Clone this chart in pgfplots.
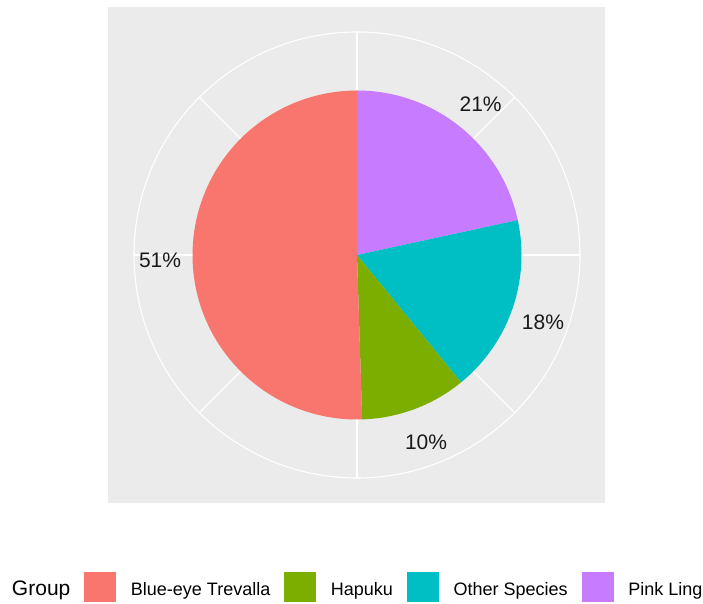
\documentclass[border=0pt]{standalone}
\usepackage{pgfplots}
\pgfplotsset{compat=1.18}
\usepackage{fontspec}
\setmainfont{Liberation Sans}
\definecolor{cBlueEye}{HTML}{F8766D}
\definecolor{cHapuku}{HTML}{7CAE00}
\definecolor{cOther}{HTML}{00BFC4}
\definecolor{cPinkLing}{HTML}{C77CFF}
\definecolor{cPanel}{HTML}{EBEBEB}
% #1 start share (%), #2 share (%), #3 colour, #4 label
\newcommand\pieslice[4]{%
  \fill[#3] (axis cs:357,349) -- ++({90-3.6*(#1)}:164.5pt)
     arc[start angle={90-3.6*(#1)}, end angle={90-3.6*(#1+#2)}, radius=164.5pt] -- cycle;
  \path (axis cs:357,349) ++({90-3.6*(#1+#2/2)}:197pt)
     node[yshift=-2.5pt, font=\fontsize{21}{24}\selectfont, text=black!90] {#4};
}
\newcommand\keybox[1]{\draw[fill=#1, draw=white, line width=0.6pt] (0pt,-7pt) rectangle (33pt,24pt);}
\begin{document}
\begin{tikzpicture}
\begin{axis}[
  scale only axis, width=703pt, height=604pt,
  xmin=0, xmax=703, ymin=0, ymax=604,
  hide axis, clip=false,
  legend columns=-1,
  legend style={draw=none, fill=none, inner sep=0pt, outer sep=0pt,
    at={(axis cs:-2,1)}, anchor=south west,
    font=\fontsize{18}{20}\selectfont,
    nodes={inner sep=0pt, anchor=base west},
    /tikz/every odd column/.append style={column sep=14pt},
    /tikz/every even column/.append style={column sep=13pt}},
]
% panel
\fill[cPanel] (axis cs:108,101) rectangle (axis cs:605,597);
% polar grid
\draw[white, line width=1.1pt] (axis cs:357,349) circle[radius=223pt];
\pgfplotsinvokeforeach{0,45,90,135,180,225,270,315}{
  \draw[white, line width=1.1pt] (axis cs:357,349) -- ++(#1:223pt);
}
% slices: Pink Ling, Other Species, Hapuku, Blue-eye Trevalla (clockwise from top)
\pieslice{0}{21.6}{cPinkLing}{21\%}
\pieslice{21.6}{17.5}{cOther}{18\%}
\pieslice{39.1}{10.4}{cHapuku}{10\%}
\pieslice{49.5}{50.5}{cBlueEye}{51\%}
% legend
\addlegendimage{empty legend}
\addlegendentry{\fontsize{21}{24}\selectfont Group\hspace{-2pt}}
\addlegendimage{legend image code/.code={\keybox{cBlueEye}}}
\addlegendentry{Blue-eye Trevalla}
\addlegendimage{legend image code/.code={\keybox{cHapuku}}}
\addlegendentry{Hapuku}
\addlegendimage{legend image code/.code={\keybox{cOther}}}
\addlegendentry{Other Species}
\addlegendimage{legend image code/.code={\keybox{cPinkLing}}}
\addlegendentry{Pink Ling}
\end{axis}
\pgfresetboundingbox
\useasboundingbox (0,0) rectangle (703pt,604pt);
\end{tikzpicture}
\end{document}
